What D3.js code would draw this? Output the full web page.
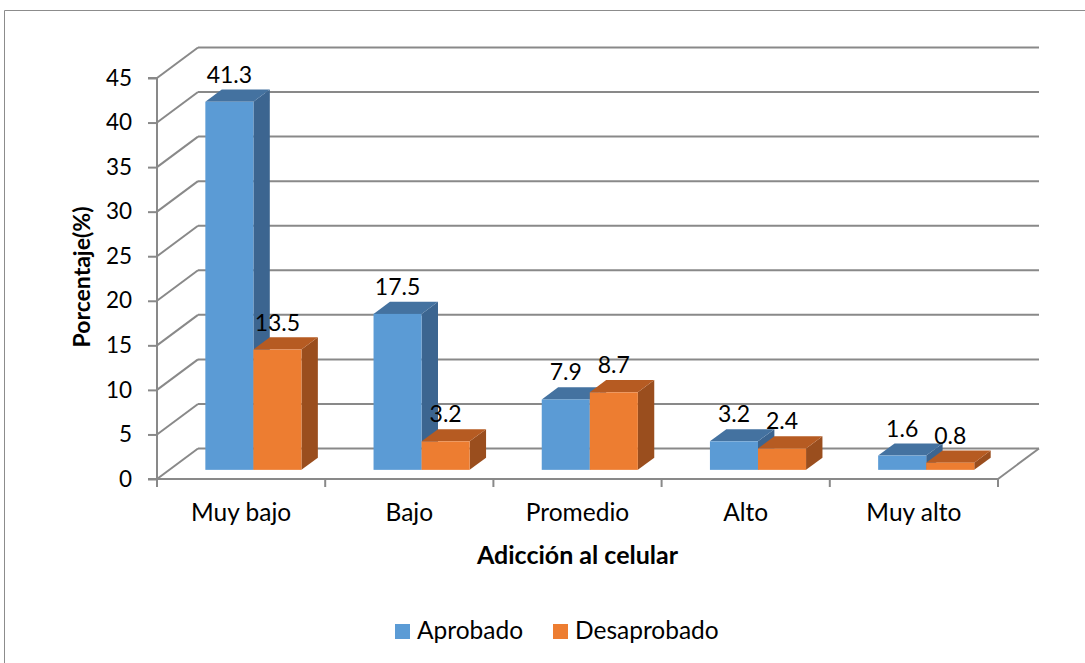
<!DOCTYPE html>
<html><head><meta charset="utf-8">
<script src="https://cdn.jsdelivr.net/npm/d3@7"></script>
<style>
html,body{margin:0;padding:0;background:#fff;}
svg{display:block;font-family:Lato,"Open Sans",sans-serif;}
</style></head>
<body>
<script>
const categories = ["Muy bajo","Bajo","Promedio","Alto","Muy alto"];
const seriesNames = ["Aprobado","Desaprobado"];
const aprobado = [41.3,17.5,7.9,3.2,1.6];
const desaprobado = [13.5,3.2,8.7,2.4,0.8];
const yTicks = [0,5,10,15,20,25,30,35,40,45];
const labelsY = "Porcentaje(%)";
const labelsX = "Adicción al celular";

const W=1085,H=663;
const svg=d3.select("body").append("svg").attr("width",W).attr("height",H);

// frame
svg.append("path").attr("d","M4.5,663V10.5H1085").attr("fill","none").attr("stroke","#8c8c8c").attr("stroke-width",1);

const x0=157,x1=998,DX=41,DY=-30.5;
const y=d3.scaleLinear().domain([0,45]).range([479,78]);
const xb=d3.scaleBand().domain(categories).range([x0,x1]).padding(0);
const xs=d3.scaleBand().domain(seriesNames).range([0,xb.bandwidth()]).paddingInner(0).paddingOuter(0.75);
const grid="#898989";

// back wall gridlines & side wall diagonals
const g=svg.append("g");
yTicks.forEach(v=>{
  g.append("line").attr("x1",x0+DX).attr("x2",x1+DX).attr("y1",y(v)+DY).attr("y2",y(v)+DY)
   .attr("stroke",grid).attr("stroke-width",2);
  g.append("line").attr("x1",x0).attr("x2",x0+DX).attr("y1",y(v)).attr("y2",y(v)+DY)
   .attr("stroke",grid).attr("stroke-width",2);
});
// floor right edge
g.append("line").attr("x1",x1).attr("y1",y(0)).attr("x2",x1+DX).attr("y2",y(0)+DY).attr("stroke",grid).attr("stroke-width",2);

// axes
const ya=d3.axisLeft(y).tickValues(yTicks).tickSize(9).tickPadding(16);
const yg=svg.append("g").attr("transform",`translate(${x0},0)`).call(ya);
yg.selectAll("path,line").attr("stroke",grid).attr("stroke-width",2);
yg.select(".domain").attr("d",`M-9,${y(45)}H0V${y(0)}H-9`);
yg.selectAll("text").attr("font-size",22.5).attr("fill","#000").attr("font-family","Lato");

const xa=d3.axisBottom(xb).tickSize(0).tickFormat("");
const xg=svg.append("g").attr("transform",`translate(0,${y(0)})`).call(xa);
xg.select(".domain").attr("d",`M${x0},0H${x1}`).attr("stroke",grid).attr("stroke-width",2);
const bounds=categories.map(c=>xb(c)).concat([x1]);
xg.selectAll(".bt").data(bounds).enter().append("line").attr("class","bt")
  .attr("x1",d=>d).attr("x2",d=>d).attr("y1",0).attr("y2",8).attr("stroke",grid).attr("stroke-width",2);
svg.selectAll(".cl").data(categories).enter().append("text").attr("class","cl")
  .attr("x",d=>xb(d)+xb.bandwidth()/2).attr("y",521).attr("text-anchor","middle")
  .attr("font-size",24.5).attr("fill","#000").text(d=>d);

// bars
const z0=0.3,zd=0.4;
const fx=DX*z0,fy=DY*z0,bx=DX*zd,by=DY*zd;
const colors={Aprobado:{front:"#5B9BD5",top:"#4472A0",side:"#3C6590"},
              Desaprobado:{front:"#ED7D31",top:"#B65B22",side:"#9A4E1E"}};
const bars=[];
categories.forEach((c,i)=>{
  bars.push({c,s:"Aprobado",v:aprobado[i]});
  bars.push({c,s:"Desaprobado",v:desaprobado[i]});
});
const bg=svg.append("g");
bars.forEach(d=>{
  const xl=xb(d.c)+xs(d.s)+fx, xr=xl+xs.bandwidth();
  const yb=y(0)+fy, yt=y(d.v)+fy;
  const col=colors[d.s];
  bg.append("path").attr("d",`M${xr},${yt}L${xr+bx},${yt+by}L${xr+bx},${yb+by}L${xr},${yb}Z`).attr("fill",col.side);
  bg.append("path").attr("d",`M${xl},${yt}L${xl+bx},${yt+by}L${xr+bx},${yt+by}L${xr},${yt}Z`).attr("fill",col.top);
  bg.append("rect").attr("x",xl).attr("y",yt).attr("width",xr-xl).attr("height",yb-yt).attr("fill",col.front);
});
bars.forEach(d=>{
  const xl=xb(d.c)+xs(d.s)+fx;
  bg.append("text").attr("x",xl+xs.bandwidth()/2).attr("y",y(d.v)+fy-19).attr("text-anchor","middle")
    .attr("font-size",23).attr("fill","#000").text(d.v.toFixed(1));
});

// axis titles
svg.append("text").attr("x",(x0+x1)/2).attr("y",564).attr("text-anchor","middle")
  .attr("font-size",25).attr("font-weight","bold").attr("fill","#000").text(labelsX);
svg.append("text").attr("transform","translate(90,277) rotate(-90)").attr("text-anchor","middle")
  .attr("font-size",23).attr("font-weight","bold").attr("fill","#000").text(labelsY);

// legend
const lg=svg.append("g");
const lx=[395,553];
seriesNames.forEach((s,i)=>{
  lg.append("rect").attr("x",lx[i]).attr("y",624).attr("width",15).attr("height",15).attr("fill",colors[s].front);
  lg.append("text").attr("x",lx[i]+22).attr("y",639).attr("font-size",24.5).attr("fill","#000").text(s);
});
</script>
</body></html>
